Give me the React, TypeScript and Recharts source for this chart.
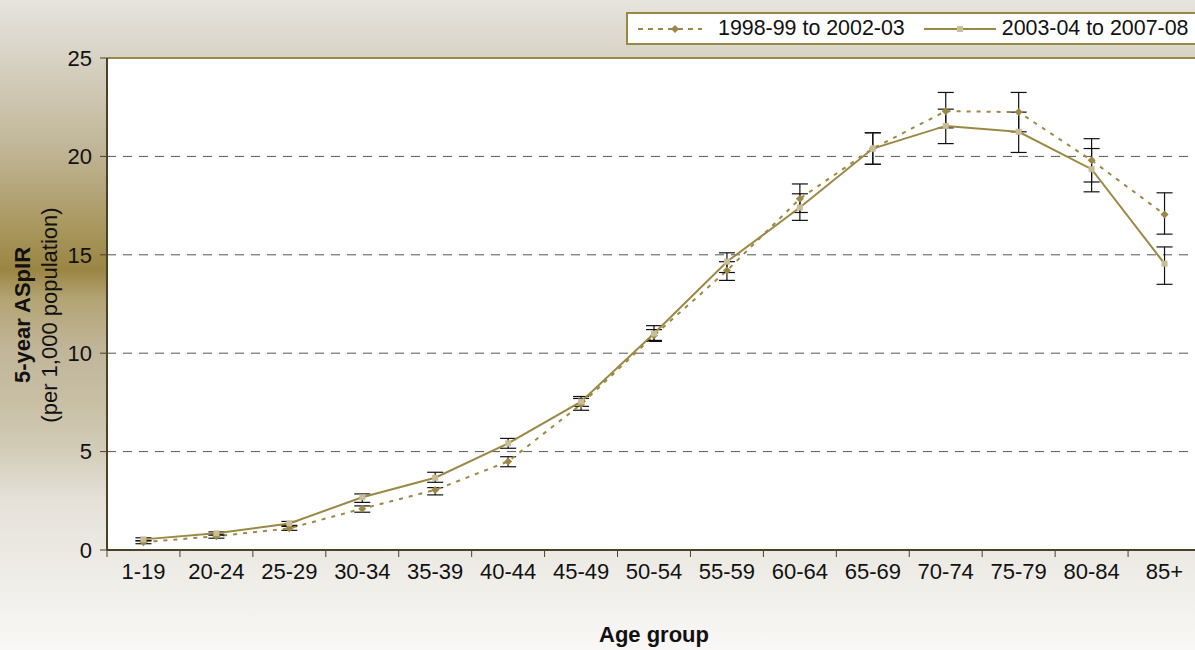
import {
  CartesianGrid,
  ComposedChart,
  ErrorBar,
  Line,
  ReferenceLine,
  XAxis,
  YAxis,
} from "recharts";

const ageGroups = [
  "1-19", "20-24", "25-29", "30-34", "35-39", "40-44", "45-49", "50-54",
  "55-59", "60-64", "65-69", "70-74", "75-79", "80-84", "85+",
];

// 1998-99 to 2002-03
const early = [0.4, 0.7, 1.1, 2.1, 3.05, 4.5, 7.4, 10.9, 14.2, 17.85, 20.4, 22.3, 22.25, 19.8, 17.05];
const earlyLo = [0.32, 0.6, 1.0, 1.92, 2.8, 4.23, 7.1, 10.6, 13.7, 17.15, 19.6, 21.45, 21.25, 18.7, 16.05];
const earlyHi = [0.47, 0.8, 1.2, 2.24, 3.17, 4.74, 7.7, 11.2, 14.65, 18.6, 21.2, 23.25, 23.25, 20.9, 18.15];

// 2003-04 to 2007-08
const late = [0.54, 0.85, 1.35, 2.68, 3.67, 5.42, 7.54, 11.0, 14.65, 17.4, 20.4, 21.55, 21.25, 19.35, 14.55];
const lateLo = [0.47, 0.75, 1.25, 2.42, 3.44, 5.17, 7.3, 10.65, 14.1, 16.75, 19.6, 20.65, 20.2, 18.2, 13.5];
const lateHi = [0.62, 0.92, 1.45, 2.85, 3.95, 5.67, 7.8, 11.4, 15.1, 18.1, 21.2, 22.4, 22.25, 20.4, 15.4];

const yTicks = [0, 5, 10, 15, 20, 25];

const data = ageGroups.map((g, i) => ({
  group: g,
  early: early[i],
  earlyErr: [early[i] - earlyLo[i], earlyHi[i] - early[i]],
  late: late[i],
  lateErr: [late[i] - lateLo[i], lateHi[i] - late[i]],
}));

const FONT = "'Liberation Sans', Arial, sans-serif";
const OLIVE = "#9c8845";
const OLIVE_LIGHT = "#c9bd98";
const AXIS = "#4a4128";

const BG =
  "linear-gradient(to bottom, #e6e4de 0%, #d9d4c7 8%, #c0b596 23%, #a9975e 35%, #9a8543 41.5%, #b3a473 46%, #c1b69a 54%, #c8bfa5 62%, #d0c9b4 68%, #e5e1d9 77%, #f2f0ec 92%, #f9f8f6 100%)";

const Diamond = (props: any) => {
  const { cx, cy } = props;
  if (cx == null || cy == null) return null;
  return <path d={`M${cx},${cy - 4}L${cx + 4},${cy}L${cx},${cy + 4}L${cx - 4},${cy}Z`} fill={OLIVE} />;
};

const Square = (props: any) => {
  const { cx, cy } = props;
  if (cx == null || cy == null) return null;
  return <rect x={cx - 3} y={cy - 3} width={6} height={6} fill={OLIVE_LIGHT} />;
};

const XTick = (props: any) => {
  const { x, y, payload } = props;
  const bx = x - (payload.offset || 0);
  return (
    <g>
      <line x1={bx} y1={y - 13} x2={bx} y2={y - 6} stroke={AXIS} />
      <text x={x} y={y} dy="0.71em" textAnchor="middle" fontSize={22} fontFamily={FONT} fill="#111">
        {payload.value}
      </text>
    </g>
  );
};

const LegendBox = () => (
  <div
    style={{
      position: "absolute",
      top: 12,
      left: 626,
      display: "flex",
      alignItems: "center",
      height: 29,
      background: "#fff",
      border: `2px solid ${OLIVE}`,
      fontFamily: FONT,
      fontSize: 21.4,
      color: "#111",
      whiteSpace: "nowrap",
      paddingLeft: 10,
      paddingRight: 20,
    }}
  >
    <svg width={64} height={10} style={{ marginRight: 16 }}>
      <line x1={0} y1={5} x2={64} y2={5} stroke={OLIVE} strokeWidth={2} strokeDasharray="5 5" />
      <path d="M37,1L41,5L37,9L33,5Z" fill={OLIVE} />
    </svg>
    <span style={{ marginRight: 19 }}>1998-99 to 2002-03</span>
    <svg width={72} height={10} style={{ marginRight: 6 }}>
      <line x1={0} y1={5} x2={72} y2={5} stroke={OLIVE} strokeWidth={2} />
      <rect x={33} y={2} width={6} height={6} fill={OLIVE_LIGHT} />
    </svg>
    <span>2003-04 to 2007-08</span>
  </div>
);

const YTitle = (props: any) => {
  const vb = props.viewBox || {};
  const cy = (vb.y || 0) + (vb.height || 0) / 2 + 11;
  return (
    <g fontFamily={FONT} fontSize={22} fill="#111">
      <text x={22} y={cy} transform={`rotate(-90, 22, ${cy})`} textAnchor="middle" dominantBaseline="central" fontWeight="bold">
        5-year ASpIR
      </text>
      <text x={49} y={cy} transform={`rotate(-90, 49, ${cy})`} textAnchor="middle" dominantBaseline="central">
        (per 1,000 population)
      </text>
    </g>
  );
};

export default function App() {
  return (
    <div
      style={{
        position: "absolute",
        left: 0,
        top: 0,
        width: 1195,
        height: 650,
        overflow: "hidden",
        background: BG,
      }}
    >
      <ComposedChart
        width={1210}
        height={650}
        data={data}
        margin={{ top: 58, right: 9, bottom: 0, left: 0 }}
      >
        <CartesianGrid
          vertical={false}
          fill="#fff"
          stroke="#555"
          strokeDasharray="9 7"
          horizontalValues={[5, 10, 15, 20]}
        />
        <ReferenceLine y={25} stroke={OLIVE} strokeWidth={2} />
        <XAxis
          dataKey="group"
          scale="band"
          height={100}
          tickSize={7}
          tickMargin={6}
          tickLine={false}
          tick={<XTick />}
          axisLine={{ stroke: AXIS, strokeWidth: 2 }}
          interval={0}
          label={{
            value: "Age group",
            position: "insideBottom",
            offset: 8,
            style: { fontFamily: FONT, fontSize: 22, fontWeight: "bold", fill: "#111" },
          }}
        />
        <YAxis
          width={107}
          domain={[0, 25]}
          ticks={yTicks}
          tickSize={7}
          tickMargin={8}
          tick={{ fontFamily: FONT, fontSize: 22, fill: "#111" }}
          tickLine={{ stroke: AXIS }}
          axisLine={{ stroke: AXIS, strokeWidth: 2 }}
          label={<YTitle />}
        />
        <Line
          dataKey="early"
          stroke={OLIVE}
          strokeWidth={2}
          strokeDasharray="4 6"
          dot={<Diamond />}
          activeDot={false}
          isAnimationActive={false}
        >
          <ErrorBar dataKey="earlyErr" width={8} stroke="#111" strokeWidth={1.2} />
        </Line>
        <Line
          dataKey="late"
          stroke={OLIVE}
          strokeWidth={2}
          dot={<Square />}
          activeDot={false}
          isAnimationActive={false}
        >
          <ErrorBar dataKey="lateErr" width={8} stroke="#111" strokeWidth={1.2} />
        </Line>
      </ComposedChart>
      <LegendBox />
    </div>
  );
}
